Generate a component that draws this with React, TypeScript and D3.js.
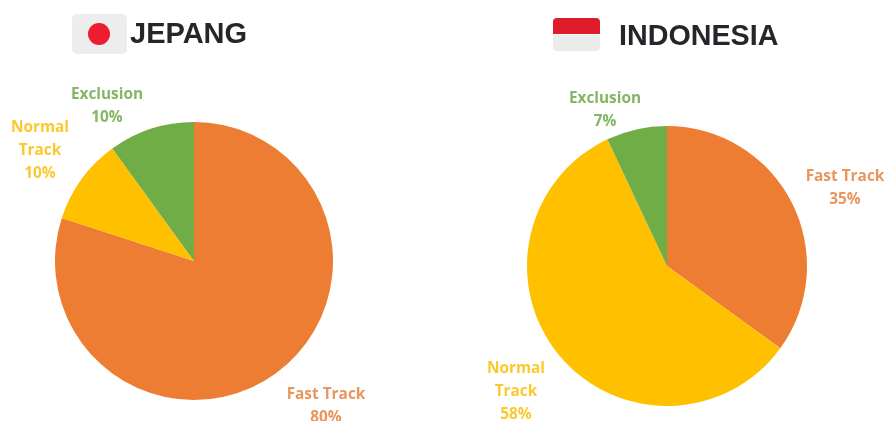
import React from "react";
import * as d3 from "d3";

const categories = ["Fast Track", "Normal Track", "Exclusion"];
const jepangValues = [80, 10, 10];
const indonesiaValues = [35, 58, 7];
const colors = ["#ED7D31", "#FFC000", "#70AD47"];
const labelColors = ["#E9955F", "#FBC92F", "#83B765"];

const arcGen = d3.arc<d3.PieArcDatum<number>>().innerRadius(0);
const pieGen = d3.pie<number>().sort(null).value((d) => d);

type LabelPos = { x: number; y: number; lines: string[] };

function Pie({ values, cx, cy, r, labels }: { values: number[]; cx: number; cy: number; r: number; labels: LabelPos[] }) {
  const arcs = pieGen(values);
  return (
    <g>
      <g transform={`translate(${cx},${cy})`} filter="url(#soft)">
        {arcs.map((a, i) => (
          <path key={i} d={arcGen.outerRadius(r)(a) as string} fill={colors[i]} />
        ))}
      </g>
      <g filter="url(#softText)">
        {labels.map((l, i) => (
          <text key={i} textAnchor="middle" fontFamily="'Open Sans', sans-serif" fontWeight={700} fontSize={15.4} fill={labelColors[i]}>
            {[...l.lines, `${values[i]}%`].map((t, j) => (
              <tspan key={j} x={l.x} y={l.y + j * 23}>{t}</tspan>
            ))}
          </text>
        ))}
      </g>
    </g>
  );
}

export default function App() {
  return (
    <svg width={884} height={421} style={{ position: "absolute", left: 0, top: 0, background: "#fff" }}>
      <defs>
        <filter id="soft" x="-5%" y="-5%" width="110%" height="110%"><feGaussianBlur stdDeviation="0.6" /></filter>
        <filter id="softText" x="-5%" y="-5%" width="110%" height="110%"><feGaussianBlur stdDeviation="0.5" /></filter>
      </defs>

      <g filter="url(#softText)">
        <rect x={72} y={14} width={55} height={40} rx={5} fill="#EDEDED" />
        <circle cx={99} cy={34} r={11} fill="#ED1C2E" />
        <text x={130} y={43} fontFamily="'Liberation Sans', Arial, sans-serif" fontWeight={700} fontSize={29} fill="#26262B">JEPANG</text>

        <path d="M553,34 V22 a4,4 0 0 1 4,-4 H596 a4,4 0 0 1 4,4 V34 Z" fill="#E01B2B" />
        <path d="M553,35 H600 V47 a4,4 0 0 1 -4,4 H557 a4,4 0 0 1 -4,-4 Z" fill="#EBEBEB" />
        <text x={619} y={45} fontFamily="'Liberation Sans', Arial, sans-serif" fontWeight={700} fontSize={28.7} fill="#26262B">INDONESIA</text>
      </g>

      <Pie
        values={jepangValues}
        cx={194}
        cy={261}
        r={139}
        labels={[
          { x: 326, y: 399, lines: [categories[0]] },
          { x: 40, y: 132, lines: ["Normal", "Track"] },
          { x: 107, y: 99, lines: [categories[2]] },
        ]}
      />
      <Pie
        values={indonesiaValues}
        cx={667}
        cy={266}
        r={140}
        labels={[
          { x: 845, y: 181, lines: [categories[0]] },
          { x: 516, y: 373, lines: ["Normal", "Track"] },
          { x: 605, y: 103, lines: [categories[2]] },
        ]}
      />
    </svg>
  );
}
